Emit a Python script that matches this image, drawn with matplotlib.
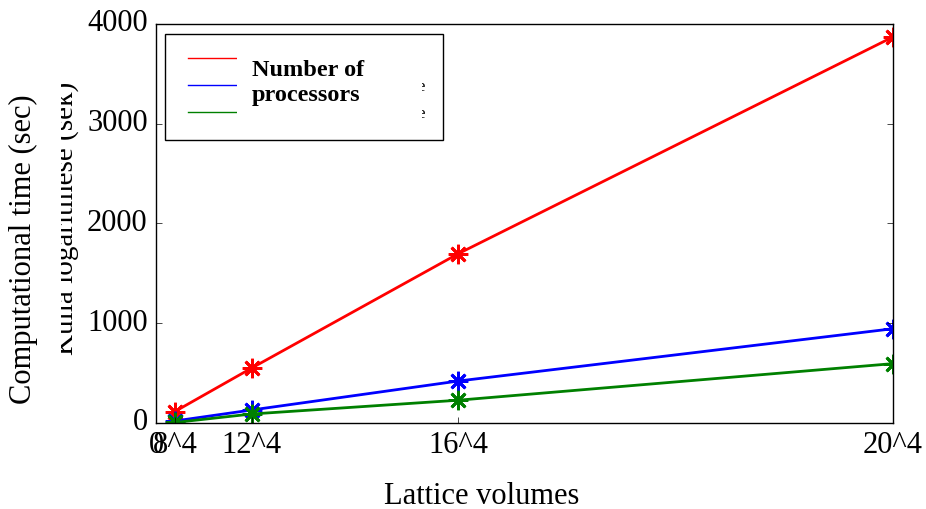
import matplotlib
matplotlib.use("Agg")
import matplotlib.pyplot as plt
from matplotlib.lines import Line2D
from matplotlib.patches import Rectangle

plt.style.use('classic')
plt.rcParams['font.family'] = 'Liberation Serif'

# lattice volumes L^4
volumes = [8**4, 12**4, 16**4, 20**4]
xtick_pos = [0, 8**4, 12**4, 16**4, 20**4]
xtick_labels = ['0', '8^4', '12^4', '16^4', '20^4']

time_red = [115, 550, 1695, 3870]
time_blue = [20, 130, 420, 945]
time_green = [5, 90, 228, 595]

fig = plt.figure(figsize=(9.26, 5.09), dpi=100)
ax = fig.add_axes([0.1685, 0.169, 0.7959, 0.784])

star = (8, 2, 0)
ax.plot(volumes, time_red, color='r', lw=2, marker=star, ms=14, mew=2, mec='r')
ax.plot(volumes, time_blue, color='b', lw=2, marker=star, ms=14, mew=2, mec='b')
ax.plot(volumes, time_green, color='g', lw=2, marker=star, ms=14, mew=2, mec='g')

ax.set_xlim(0, 160000)
ax.set_ylim(0, 4000)
ax.set_xticks(xtick_pos)
ax.set_xticklabels(xtick_labels)
ax.set_yticks([0, 1000, 2000, 3000, 4000])
ax.tick_params(labelsize=22, pad=6)
ax.xaxis.set_ticks_position('bottom')
ax.yaxis.set_ticks_position('both')

# older axis title underneath, partly hidden by a white strip
fig.text(0.071, 0.57, 'Kulla logaritmese (sek)', rotation=90, fontsize=21,
         ha='center', va='center')
fig.patches.append(Rectangle((0.04, 0.1), 0.026, 0.85, transform=fig.transFigure,
                             facecolor='white', edgecolor='none', zorder=5))
fig.text(0.025, 0.51, 'Computational time (sec)', rotation=90, fontsize=22,
         ha='center', va='center', zorder=6)
fig.text(0.52, 0.025, 'Lattice volumes', fontsize=22, ha='center', va='center')

# legend
handles = [Line2D([], [], color='r'), Line2D([], [], color='b'), Line2D([], [], color='g')]
leg = ax.legend(handles, ['Arvutusaeg 1 protsessor', 'Arvutusaeg 2 protsessore',
                          'Arvutusaeg 4 protsessore'],
                loc='upper left', bbox_to_anchor=(0.012, 0.975), fontsize=12,
                handlelength=3.6, borderpad=1.1, borderaxespad=0,
                labelspacing=0.65, frameon=True)
leg.get_frame().set_linewidth(1.0)
fig.patches.append(Rectangle((0.256, 0.745), 0.1995, 0.176, transform=fig.transFigure,
                             facecolor='white', edgecolor='none', zorder=8))
fig.text(0.272, 0.837, 'Number of\nprocessors', fontsize=17.5, fontweight='bold',
         ha='left', va='center', linespacing=1.2, zorder=9)

fig.savefig('out.png', dpi=100)
